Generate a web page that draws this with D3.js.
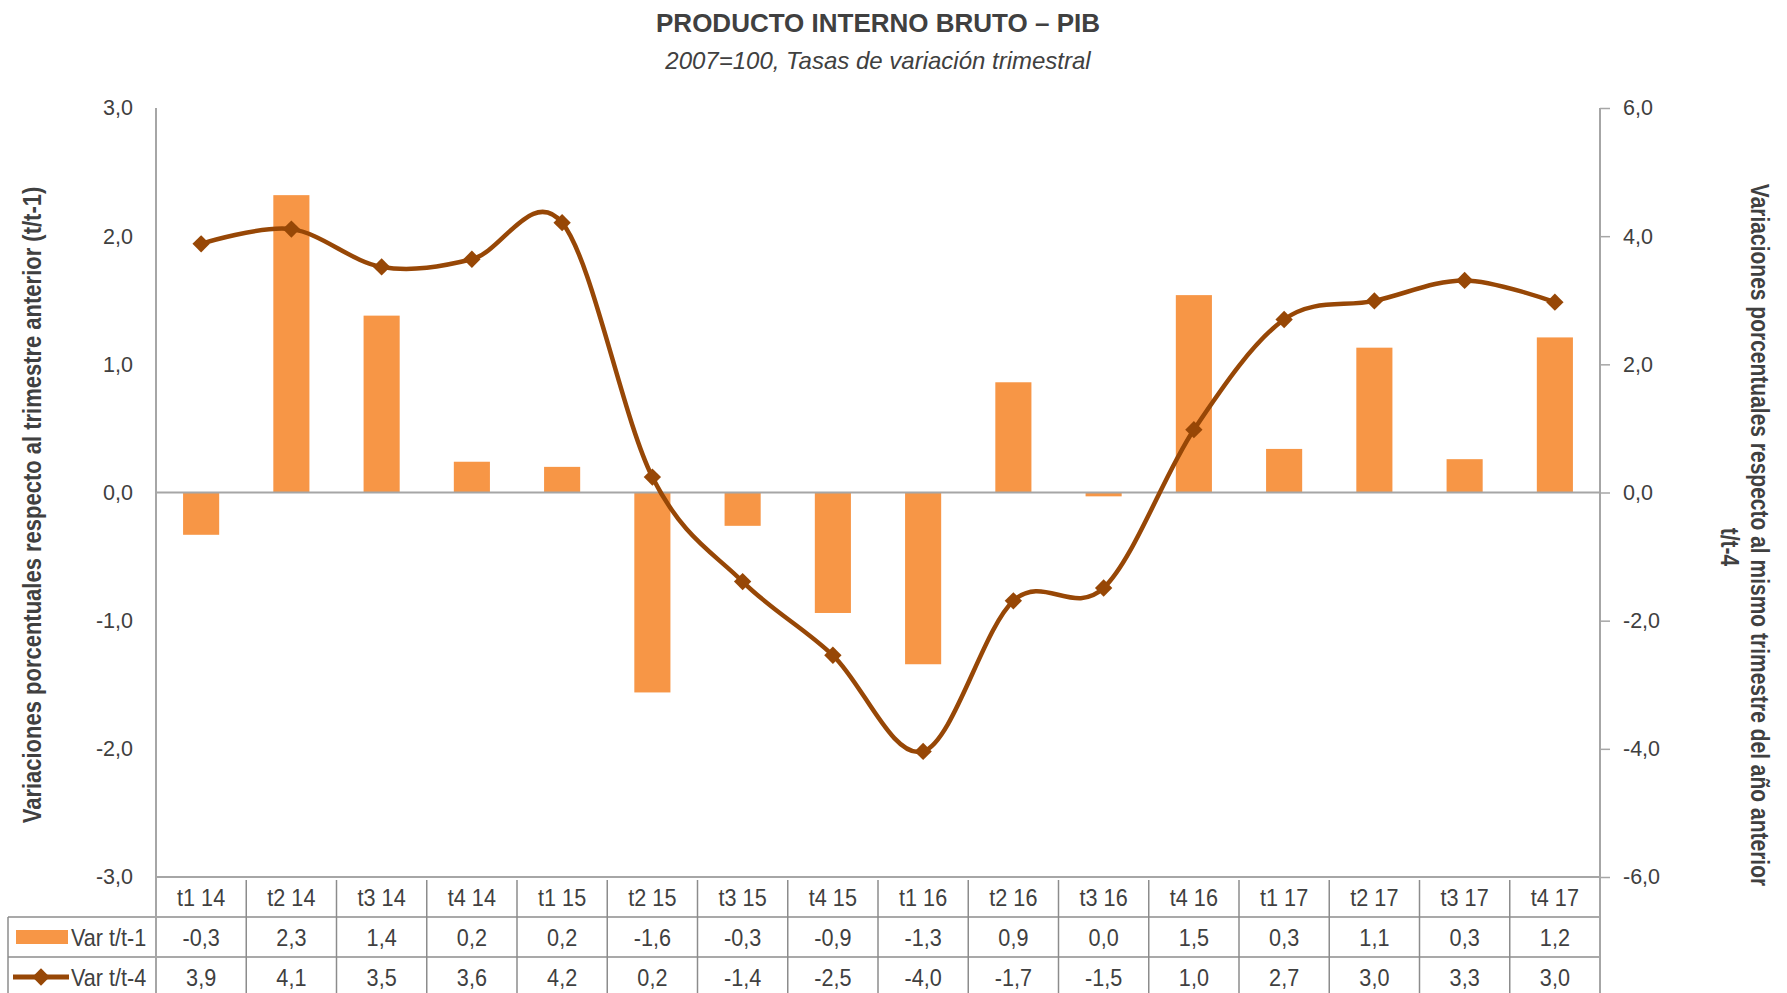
<!DOCTYPE html>
<html>
<head>
<meta charset="utf-8">
<script src="https://cdn.jsdelivr.net/npm/d3@7"></script>
<style>
  body { margin: 0; background: #fff; }
  svg { display: block; }
</style>
</head>
<body>
<script>
// datos
const categories = ["t1 14", "t2 14", "t3 14", "t4 14", "t1 15", "t2 15", "t3 15", "t4 15",
    "t1 16", "t2 16", "t3 16", "t4 16", "t1 17", "t2 17", "t3 17", "t4 17"]
const varT1 = [-0.33, 2.32, 1.38, 0.24, 0.2, -1.56, -0.26, -0.94, -1.34, 0.86, -0.03, 1.54, 0.34, 1.13, 0.26, 1.21]
const varT4 = [3.88, 4.11, 3.52, 3.64, 4.21, 0.24, -1.39, -2.54, -4.04, -1.69, -1.49, 0.98, 2.7, 2.99, 3.31, 2.97]
const leftTicks = [-3, -2, -1, 0, 1, 2, 3]
const rightTicks = [-6, -4, -2, 0, 2, 4, 6]

const width = 1787
const height = 993
const margin = { top: 108, right: 187, bottom: 116, left: 156 }

const barColor = "#F79646"
const lineColor = "#974706"
const axisColor = "#A6A6A6"
const textColor = "#404040"
const font = "'Liberation Sans', Arial, sans-serif"

const locale = d3.formatLocale({ decimal: ",", thousands: ".", grouping: [3], currency: ["", ""], minus: "-" })
const fmt = v => locale.format(".1f")(Math.abs(v) < 0.05 ? 0 : v)

const svg = d3.select("body").append("svg")
    .attr("width", width)
    .attr("height", height)
    .attr("viewBox", [0, 0, width, height])
    .attr("font-family", font)

// texto angosto (imita Arial Narrow)
function label(parent, txt, px, py, opts) {
    const o = Object.assign({ size: 24, sx: 0.9, rot: 0, anchor: "middle", weight: "normal", style: "normal" }, opts)
    return parent.append("text")
        .attr("transform", `translate(${px},${py}) rotate(${o.rot}) scale(${o.sx},1)`)
        .attr("text-anchor", o.anchor)
        .attr("font-size", o.size)
        .attr("font-weight", o.weight)
        .attr("font-style", o.style)
        .attr("fill", textColor)
        .text(txt)
}

// escalas
const x = d3.scaleBand()
    .domain(categories)
    .range([margin.left, width - margin.right])

const yL = d3.scaleLinear()
    .domain([-3, 3])
    .range([height - margin.bottom, margin.top])

const yR = d3.scaleLinear()
    .domain([-6, 6])
    .range([height - margin.bottom, margin.top])

const bw = x.bandwidth() * 0.4

// barras
svg.append("g")
    .attr("fill", barColor)
    .selectAll("rect")
    .data(varT1)
    .join("rect")
    .attr("x", (d, i) => x(categories[i]) + (x.bandwidth() - bw) / 2)
    .attr("y", d => yL(Math.max(0, d)))
    .attr("width", bw)
    .attr("height", d => Math.abs(yL(d) - yL(0)))

// linea del cero
svg.append("line")
    .attr("x1", margin.left).attr("x2", width - margin.right)
    .attr("y1", yL(0)).attr("y2", yL(0))
    .attr("stroke", axisColor).attr("stroke-width", 2)

// ejes
const gl = svg.append("g")
    .attr("transform", `translate(${margin.left},0)`)
    .call(d3.axisLeft(yL).tickValues(leftTicks).tickFormat(fmt).tickSize(0).tickPadding(23))
gl.select(".domain").remove()
gl.selectAll("text").attr("font-family", font).attr("font-size", 21.5).attr("fill", textColor)

const gr = svg.append("g")
    .attr("transform", `translate(${width - margin.right},0)`)
    .call(d3.axisRight(yR).tickValues(rightTicks).tickFormat(fmt).tickSize(10).tickPadding(13))
gr.select(".domain").remove()
gr.selectAll("line").attr("stroke", axisColor).attr("stroke-width", 1.5)
gr.selectAll("text").attr("font-family", font).attr("font-size", 21.5).attr("fill", textColor)

// linea suavizada
const pts = varT4.map((d, i) => [x(categories[i]) + x.bandwidth() / 2, yR(d)])
svg.append("path")
    .datum(pts)
    .attr("fill", "none")
    .attr("stroke", lineColor)
    .attr("stroke-width", 4.5)
    .attr("d", d3.line().curve(d3.curveCatmullRom.alpha(0)))

const diamond = d3.symbol().type(d3.symbolSquare).size(150)
svg.append("g")
    .attr("fill", lineColor)
    .selectAll("path")
    .data(pts)
    .join("path")
    .attr("transform", d => `translate(${d[0]},${d[1]}) rotate(45)`)
    .attr("d", diamond)

// tabla de datos
const rowTop = height - margin.bottom
const rowH = 40
const tableLeft = 8
const table = svg.append("g")
    .attr("stroke", "#8C8C8C")
    .attr("stroke-width", 1.5)

table.append("line")
    .attr("x1", margin.left).attr("x2", width - margin.right)
    .attr("y1", rowTop).attr("y2", rowTop)
    .attr("stroke", axisColor).attr("stroke-width", 2)
;[1, 2, 3].forEach(r => {
    table.append("line")
        .attr("x1", tableLeft).attr("x2", width - margin.right)
        .attr("y1", rowTop + r * rowH).attr("y2", rowTop + r * rowH)
})
// lineas verticales
table.append("line")
    .attr("x1", margin.left).attr("x2", margin.left)
    .attr("y1", margin.top).attr("y2", height + 5)
    .attr("stroke", axisColor).attr("stroke-width", 2)
table.append("line")
    .attr("x1", width - margin.right).attr("x2", width - margin.right)
    .attr("y1", margin.top).attr("y2", height + 5)
    .attr("stroke", axisColor).attr("stroke-width", 2)
table.append("line")
    .attr("x1", tableLeft).attr("x2", tableLeft)
    .attr("y1", rowTop + rowH).attr("y2", height + 5)
categories.slice(1).forEach(c => {
    table.append("line")
        .attr("x1", x(c)).attr("x2", x(c))
        .attr("y1", rowTop + 3).attr("y2", height + 5)
})

const cells = svg.append("g")
const rowY = r => rowTop + r * rowH + rowH / 2 + 8.5
categories.forEach((c, i) => {
    const cx = x(c) + x.bandwidth() / 2
    label(cells, c, cx, rowY(0))
    label(cells, fmt(varT1[i]), cx, rowY(1))
    label(cells, fmt(varT4[i]), cx, rowY(2))
})

// leyenda dentro de la tabla
svg.append("rect")
    .attr("x", 16).attr("y", rowTop + rowH * 1.5 - 7)
    .attr("width", 52).attr("height", 14)
    .attr("fill", barColor)
svg.append("line")
    .attr("x1", 13).attr("x2", 69)
    .attr("y1", rowTop + rowH * 2.5).attr("y2", rowTop + rowH * 2.5)
    .attr("stroke", lineColor).attr("stroke-width", 5)
svg.append("path")
    .attr("transform", `translate(41,${rowTop + rowH * 2.5}) rotate(45)`)
    .attr("d", diamond)
    .attr("fill", lineColor)
label(cells, "Var t/t-1", 71, rowY(1), { anchor: "start" })
label(cells, "Var t/t-4", 71, rowY(2), { anchor: "start" })

// titulos
const cxPlot = (margin.left + width - margin.right) / 2
label(svg, "PRODUCTO INTERNO BRUTO – PIB", cxPlot, 32, { size: 26, sx: 1, weight: "bold" })
label(svg, "2007=100, Tasas de variación trimestral", cxPlot, 69, { size: 24, sx: 1, style: "italic" })

label(svg, "Variaciones porcentuales respecto al trimestre anterior (t/t-1)", 41, 505,
    { size: 25, sx: 0.88, rot: -90, weight: "bold" })
label(svg, "Variaciones porcentuales respecto al mismo trimestre del año anterior", 1751, 535,
    { size: 25, sx: 0.84, rot: 90, weight: "bold" })
label(svg, "t/t-4", 1721, 547, { size: 25, sx: 0.84, rot: 90, weight: "bold" })
</script>
</body>
</html>
